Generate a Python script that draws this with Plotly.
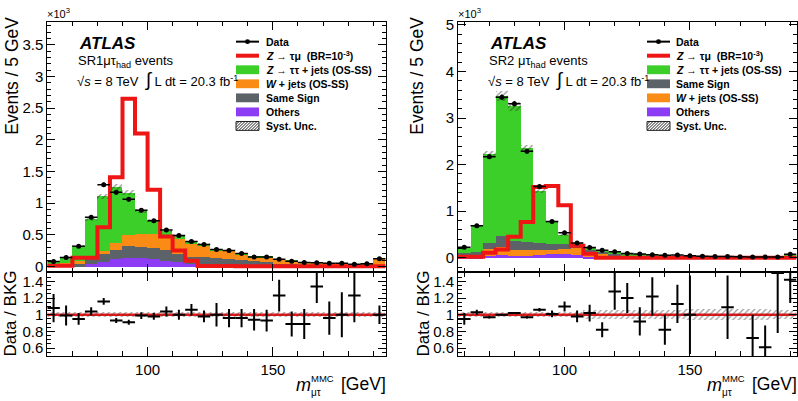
import numpy as np
import plotly.graph_objects as go

FONT = "Liberation Sans, Arial, sans-serif"
W, H = 798, 401

# ---------------- binning (GeV) ----------------
bin_w = 5.0
n_bins = 27
sr1_lo = 60.0
sr2_lo = 57.5

# ---------------- SR1 (values in 10^3 events / 5 GeV) ----------------
sr1_data = [0.078, 0.140, 0.316, 0.776, 1.289, 1.170, 1.061, 0.885, 0.719, 0.575, 0.487, 0.393, 0.345,
            0.266, 0.250, 0.205, 0.148, 0.148, 0.114, 0.080, 0.060, 0.056, 0.048, 0.048, 0.034, 0.041, 0.119]
sr1_others = [0.003, 0.005, 0.010, 0.041, 0.078, 0.114, 0.135, 0.135, 0.124, 0.093, 0.067, 0.041, 0.031,
              0.021, 0.015, 0.010, 0.008, 0.006, 0.005, 0.004, 0.003, 0.002, 0.002, 0.002, 0.001, 0.001, 0.003]
sr1_samesign = [0.012, 0.030, 0.031, 0.078, 0.119, 0.145, 0.191, 0.175, 0.166, 0.166, 0.140, 0.119, 0.114,
                0.119, 0.104, 0.100, 0.075, 0.074, 0.040, 0.031, 0.022, 0.018, 0.016, 0.014, 0.011, 0.011, 0.027]
sr1_wjets = [0.015, 0.025, 0.052, 0.036, 0.051, 0.119, 0.171, 0.208, 0.228, 0.222, 0.238, 0.210, 0.185,
             0.115, 0.131, 0.090, 0.067, 0.070, 0.067, 0.053, 0.038, 0.038, 0.035, 0.032, 0.026, 0.030, 0.098]
sr1_ztautau = [0.042, 0.080, 0.237, 0.595, 0.867, 0.877, 0.673, 0.367, 0.207, 0.084, 0.045, 0.020, 0.025,
               0.010, 0.010, 0.010, 0.008, 0.008, 0.008, 0.006, 0.005, 0.004, 0.004, 0.004, 0.004, 0.003, 0.007]
sr1_signal = [0.008, 0.008, 0.135, 0.135, 0.620, 1.410, 2.650, 2.100, 1.210, 0.470, 0.250, 0.090, 0.004,
              0.004, 0.004, 0.003, 0.003, 0.003, 0.003, 0.003, 0.003, 0.003, 0.003, 0.003, 0.003, 0.003, 0.003]
sr1_syst = [0.035] * 27
sr1_ratio = [1.08, 0.99, 0.95, 1.04, 1.16, 0.93, 0.91, 0.99, 0.98, 1.04, 1.00, 1.06, 0.98, 1.00,
             0.96, 0.96, 0.94, 0.93, 1.23, 0.89, 0.89, 1.34, 0.96, 1.00, 1.23, None, 1.00]
sr1_ratio_err = [0.17, 0.12, 0.07, 0.05, 0.04, 0.03, 0.03, 0.04, 0.04, 0.06, 0.06, 0.07, 0.07, 0.14,
                 0.11, 0.11, 0.13, 0.13, 0.19, 0.15, 0.18, 0.20, 0.20, 0.27, 0.32, None, 0.11]

# ---------------- SR2 ----------------
sr2_data = [0.225, 0.690, 2.170, 3.450, 3.310, 2.290, 1.530, 0.780, 0.540, 0.320, 0.220, 0.160, 0.130,
            0.095, 0.080, 0.065, 0.055, 0.060, 0.045, 0.035, 0.030, 0.030, 0.025, 0.020, 0.015, 0.020, 0.075]
sr2_others = [0.015, 0.021, 0.050, 0.060, 0.049, 0.056, 0.077, 0.090, 0.090, 0.060, 0.030, 0.015, 0.010,
              0.008, 0.006, 0.005, 0.004, 0.003, 0.003, 0.002, 0.002, 0.002, 0.001, 0.001, 0.001, 0.001, 0.004]
sr2_wjets = [0.035, 0.042, 0.150, 0.180, 0.134, 0.113, 0.106, 0.085, 0.100, 0.150, 0.100, 0.075, 0.040,
             0.027, 0.024, 0.015, 0.016, 0.015, 0.009, 0.008, 0.008, 0.008, 0.007, 0.007, 0.005, 0.005, 0.016]
sr2_samesign = [0.060, 0.071, 0.124, 0.225, 0.183, 0.176, 0.141, 0.135, 0.106, 0.050, 0.050, 0.050, 0.040,
                0.030, 0.030, 0.020, 0.020, 0.017, 0.013, 0.010, 0.010, 0.010, 0.008, 0.008, 0.006, 0.006, 0.020]
sr2_ztautau = [0.105, 0.546, 1.916, 3.015, 2.894, 2.015, 1.126, 0.460, 0.204, 0.070, 0.035, 0.030, 0.020,
               0.015, 0.015, 0.010, 0.010, 0.010, 0.005, 0.005, 0.005, 0.005, 0.004, 0.004, 0.003, 0.003, 0.010]
sr2_signal = [0.022, 0.022, 0.110, 0.180, 0.450, 0.770, 1.520, 1.540, 1.130, 0.260, 0.085, 0.004, 0.004,
              0.004, 0.004, 0.003, 0.003, 0.003, 0.003, 0.003, 0.003, 0.003, 0.003, 0.003, 0.003, 0.003, 0.003]
sr2_syst = [0.03] * 10 + [0.05] * 8 + [0.065] * 7 + [0.05] * 2
sr2_ratio = [0.95, 1.03, 0.97, 1.00, 1.02, 0.97, 1.06, 1.01, 1.10, 0.98, 1.02, 0.82, 1.28, 1.20,
             0.92, 1.22, 0.82, 1.13, 1.00, None, None, 1.09, None, 0.72, 0.61, 1.50, 1.42]
sr2_ratio_err = [0.07, 0.03, 0.015, 0.01, 0.01, 0.015, 0.02, 0.04, 0.06, 0.07, 0.10, 0.09, 0.22, 0.18,
                 0.17, 0.23, 0.18, 0.23, 0.47, None, None, 0.38, None, 0.28, 0.26, 0.72, 0.28]

GREEN = "#3ccf2a"
ORANGE = "#fa8c16"
GREY = "#5b6368"
PURPLE = "#8c3cf5"
RED = "#ee1515"

sig_label = "<b><i>Z</i> → τμ  (BR=10<sup>-3</sup>)</b>"
ztt_label = "<b><i>Z</i> → ττ + jets (OS-SS)</b>"
w_label = "<b><i>W</i> + jets (OS-SS)</b>"
ss_label = "<b>Same Sign</b>"
oth_label = "<b>Others</b>"

fig = go.Figure()


def px2x(p):
    return p / W


def px2y(p):
    return 1 - p / H


def add_panel(xm, ym, xr, yr, lo, data, stack, signal, syst, ratio, rerr):
    n = len(data)
    centers = lo + bin_w * (np.arange(n) + 0.5)
    edges = lo + bin_w * np.arange(n + 1)
    base = np.zeros(n)
    for vals, color in stack:
        vals = np.array(vals)
        fig.add_trace(go.Bar(x=centers, y=vals, base=base.copy(), width=bin_w, opacity=1,
                             marker=dict(color=color, line=dict(width=0)),
                             xaxis=xm, yaxis=ym, hoverinfo="skip"))
        base = base + vals
    sabs = base * np.array(syst)
    fig.add_trace(go.Bar(x=centers, y=2 * sabs, base=base - sabs, width=bin_w, opacity=1,
                         marker=dict(color="rgba(0,0,0,0)", line=dict(width=0),
                                     pattern=dict(shape="/", fgcolor="#222222", bgcolor="rgba(0,0,0,0)",
                                                  size=4, solidity=0.3)),
                         xaxis=xm, yaxis=ym, hoverinfo="skip"))
    # signal outline
    fig.add_trace(go.Scatter(x=edges, y=list(signal) + [signal[-1]], mode="lines",
                             line=dict(color=RED, width=4, shape="hv"), xaxis=xm, yaxis=ym))
    # data points
    d = np.array(data)
    fig.add_trace(go.Scatter(x=centers, y=d, mode="markers",
                             marker=dict(color="black", size=5),
                             error_x=dict(type="data", array=[bin_w / 2] * n, width=0, thickness=1.5, color="black"),
                             error_y=dict(type="data", array=np.sqrt(d * 1000) / 1000, width=0, thickness=1.5,
                                          color="black"),
                             xaxis=xm, yaxis=ym))
    # ratio band
    sr = np.array(syst)
    fig.add_trace(go.Bar(x=centers, y=2 * sr, base=1 - sr, width=bin_w, opacity=1,
                         marker=dict(color="rgba(0,0,0,0)", line=dict(width=0),
                                     pattern=dict(shape="/", fgcolor="#333333", bgcolor="rgba(0,0,0,0)",
                                                  size=4, solidity=0.3)),
                         xaxis=xr, yaxis=yr, hoverinfo="skip"))
    fig.add_shape(type="line", xref=xr + " domain", yref=yr, x0=0, x1=1, y0=1, y1=1,
                  line=dict(color=RED, width=2.5), layer="below")
    # ratio points
    fig.add_trace(go.Scatter(x=centers, y=ratio, mode="markers",
                             marker=dict(color="black", size=2),
                             error_x=dict(type="data", array=[bin_w / 2] * n, width=0, thickness=2, color="black"),
                             error_y=dict(type="data", array=[e if e is not None else 0 for e in rerr],
                                          width=0, thickness=2, color="black"),
                             xaxis=xr, yaxis=yr))


add_panel("x", "y", "x2", "y2", sr1_lo, sr1_data,
          [(sr1_others, PURPLE), (sr1_samesign, GREY), (sr1_wjets, ORANGE), (sr1_ztautau, GREEN)],
          sr1_signal, sr1_syst, sr1_ratio, sr1_ratio_err)
add_panel("x3", "y3", "x4", "y4", sr2_lo, sr2_data,
          [(sr2_others, PURPLE), (sr2_wjets, ORANGE), (sr2_samesign, GREY), (sr2_ztautau, GREEN)],
          sr2_signal, sr2_syst, sr2_ratio, sr2_ratio_err)

# ---------------- axes ----------------
main_dom_y = [px2y(272), px2y(17)]
ratio_dom_y = [px2y(357.7), px2y(272)]
left_dom_x = [px2x(47.3), px2x(385.7)]
right_dom_x = [px2x(458), px2x(796.5)]


def ax(**kw):
    base = dict(showline=True, linecolor="black", linewidth=1, mirror="allticks", ticks="inside",
                tickcolor="black", tickwidth=1, showgrid=False, zeroline=False,
                tickfont=dict(family=FONT, size=15, color="black"))
    base.update(kw)
    return base


xminor = dict(ticks="inside", ticklen=4, tickcolor="black", dtick=10, tick0=0, showgrid=False)
fig.update_layout(
    xaxis=ax(domain=left_dom_x, range=[60, 195], anchor="y", tick0=0, dtick=50, ticklen=8,
             showticklabels=False, minor=xminor),
    yaxis=ax(domain=main_dom_y, range=[-0.093, 3.866], anchor="x", tick0=0, dtick=0.5, ticklen=8,
             minor=dict(ticks="inside", ticklen=4, tickcolor="black", dtick=0.1, showgrid=False)),
    xaxis2=ax(domain=left_dom_x, range=[60, 195], anchor="y2", tick0=0, dtick=50, ticklen=9,
              minor=dict(ticks="inside", ticklen=5, tickcolor="black", dtick=10, tick0=0, showgrid=False)),
    yaxis2=ax(domain=ratio_dom_y, range=[0.5, 1.51], anchor="x2", tick0=0.2, dtick=0.2, ticklen=8,
              minor=dict(ticks="inside", ticklen=4, tickcolor="black", dtick=0.05, showgrid=False)),
    xaxis3=ax(domain=right_dom_x, range=[57.5, 192.5], anchor="y3", tick0=0, dtick=50, ticklen=8,
              showticklabels=False, minor=xminor),
    yaxis3=ax(domain=main_dom_y, range=[-0.31, 5.07], anchor="x3", tick0=0, dtick=1, ticklen=8,
              minor=dict(ticks="inside", ticklen=4, tickcolor="black", dtick=0.2, showgrid=False)),
    xaxis4=ax(domain=right_dom_x, range=[57.5, 192.5], anchor="y4", tick0=0, dtick=50, ticklen=9,
              minor=dict(ticks="inside", ticklen=5, tickcolor="black", dtick=10, tick0=0, showgrid=False)),
    yaxis4=ax(domain=ratio_dom_y, range=[0.5, 1.51], anchor="x4", tick0=0.2, dtick=0.2, ticklen=8,
              minor=dict(ticks="inside", ticklen=4, tickcolor="black", dtick=0.05, showgrid=False)),
    barmode="overlay", bargap=0,
    width=W, height=401, margin=dict(l=0, r=0, t=0, b=0),
    paper_bgcolor="white", plot_bgcolor="white", showlegend=False,
    font=dict(family=FONT, color="black"),
)

annotations = []
shapes = []


def text(x, y, s, size, xanchor="left", yanchor="middle", angle=0):
    annotations.append(dict(x=px2x(x), y=px2y(y), xref="paper", yref="paper", text=s, showarrow=False,
                            xanchor=xanchor, yanchor=yanchor, textangle=angle, borderpad=0,
                            font=dict(family=FONT, size=size, color="black")))


def legend(sx, tx, y0, entries, step=14.3):
    bw, bh = 23, 9
    for i, (kind, color, label) in enumerate(entries):
        cy = y0 + step * i
        if kind == "box":
            shapes.append(dict(type="rect", xref="paper", yref="paper", x0=px2x(sx), x1=px2x(sx + bw),
                               y0=px2y(cy + bh / 2), y1=px2y(cy - bh / 2), fillcolor=color,
                               line=dict(width=0)))
        elif kind == "line":
            shapes.append(dict(type="line", xref="paper", yref="paper", x0=px2x(sx), x1=px2x(sx + bw),
                               y0=px2y(cy), y1=px2y(cy), line=dict(color=color, width=4)))
        elif kind == "data":
            shapes.append(dict(type="line", xref="paper", yref="paper", x0=px2x(sx), x1=px2x(sx + bw),
                               y0=px2y(cy), y1=px2y(cy), line=dict(color="black", width=2)))
            shapes.append(dict(type="circle", xref="paper", yref="paper", x0=px2x(sx + bw / 2 - 2.5),
                               x1=px2x(sx + bw / 2 + 2.5), y0=px2y(cy + 2.5), y1=px2y(cy - 2.5),
                               fillcolor="black", line=dict(width=0)))
        elif kind == "hatch":
            x0, x1, yb, yt = sx, sx + bw, cy + bh / 2, cy - bh / 2
            path = ""
            xs = x0 - bh
            while xs < x1:
                tmin = max(0, x0 - xs)
                tmax = min(bh, x1 - xs)
                if tmin < tmax:
                    path += "M%.5f,%.5f L%.5f,%.5f " % (px2x(xs + tmin), px2y(yb - tmin),
                                                         px2x(xs + tmax), px2y(yb - tmax))
                xs += 3
            shapes.append(dict(type="path", xref="paper", yref="paper", path=path,
                               line=dict(color="#222222", width=1)))
            shapes.append(dict(type="rect", xref="paper", yref="paper", x0=px2x(x0), x1=px2x(x1),
                               y0=px2y(yb), y1=px2y(yt), line=dict(color="#222222", width=1)))
        text(tx, cy, label, 10.5)


legend(236, 265, 37.3, [("data", None, "<b>Data</b>"), ("line", RED, sig_label), ("box", GREEN, ztt_label),
                        ("box", ORANGE, w_label), ("box", GREY, ss_label), ("box", PURPLE, oth_label),
                        ("hatch", None, "<b>Syst. Unc.</b>")])
legend(647, 675, 37.3, [("data", None, "<b>Data</b>"), ("line", RED, sig_label), ("box", GREEN, ztt_label),
                        ("box", GREY, ss_label), ("box", ORANGE, w_label), ("box", PURPLE, oth_label),
                        ("hatch", None, "<b>Syst. Unc.</b>")])

lumi = "√<i>s</i> = 8 TeV  <span style='font-size:19px'>∫</span> L dt = 20.3 fb<sup>-1</sup>"
for dx, region in ((0, "SR1μτ<sub>had</sub> events"), (411, "SR2 μτ<sub>had</sub> events")):
    text(78 + dx, 39.5, "<b><i>ATLAS</i></b>", 17)
    text(77 + dx, 57, region, 13)
    text(76 + dx, 76, lumi, 13)
    text(12 + dx - (6 if dx else 0), 72, "Events / 5 GeV", 17.5, xanchor="center", angle=-90)
    text(11 + dx + (2 if dx else 0), 314, "Data / BKG", 17, xanchor="center", angle=-90)
    text(295 + dx, 387, "<i>m</i>", 18)
    text(310 + dx, 380, "MMC", 9.5)
    text(310 + dx, 394, "μτ", 10)
    text(340 + dx, 386, "[GeV]", 17.5)

text(46, 8, "×10<sup>3</sup>", 11)
text(457, 8, "×10<sup>3</sup>", 11)

fig.update_layout(annotations=annotations, shapes=list(fig.layout.shapes) + shapes)

fig.write_html("out.html", config={"displayModeBar": False},
               post_script="document.body.style.margin='0px';document.body.style.padding='0px';")
